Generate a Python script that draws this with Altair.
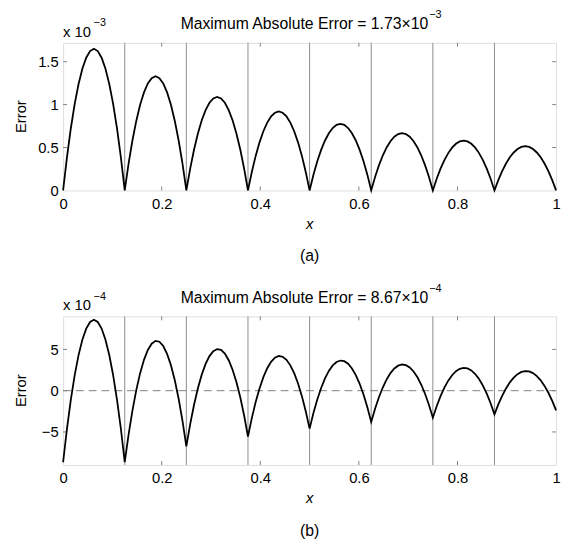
import altair as alt
import pandas as pd

# ---- data ----
knots = [0.0, 0.125, 0.25, 0.375, 0.5, 0.625, 0.75, 0.875, 1.0]
# panel (a): peak of each arc (units of 1e-3), zero at knots
top_peaks = [1.65, 1.33, 1.09, 0.92, 0.776, 0.668, 0.58, 0.515]
# panel (b): value at knots and value at arc middles (units of 1e-4)
bot_knot_vals = [-8.67, -8.65, -6.75, -5.55, -4.6, -3.8, -3.27, -2.87, -2.38]
bot_peaks = [8.6, 6.03, 5.04, 4.2, 3.65, 3.17, 2.77, 2.38]
arc_t = [0, 0.0625, 0.125, 0.1875, 0.25, 0.3125, 0.375, 0.4375, 0.5,
         0.5625, 0.625, 0.6875, 0.75, 0.8125, 0.875, 0.9375, 1.0]
arc_shape = [0, 0.234, 0.4375, 0.609, 0.75, 0.859, 0.9375, 0.984, 1.0,
             0.984, 0.9375, 0.859, 0.75, 0.609, 0.4375, 0.234, 0]

x_ticks = [0, 0.2, 0.4, 0.6, 0.8, 1]
top_yticks = [0, 0.5, 1, 1.5]
bot_yticks = [-5, 0, 5]

W, H1, H2 = 501, 150, 151
FONT = "Liberation Sans"

top_rows, bot_rows = [], []
for k in range(8):
    a, b = knots[k], knots[k + 1]
    va, vb = bot_knot_vals[k], bot_knot_vals[k + 1]
    mid = (va + vb) / 2
    for j, (t, s) in enumerate(zip(arc_t, arc_shape)):
        if k > 0 and j == 0:
            continue
        x = a + t * (b - a)
        top_rows.append({"x": x, "y": s * top_peaks[k]})
        bot_rows.append({"x": x, "y": (1 - t) * va + t * vb + s * (bot_peaks[k] - mid)})

top_df = pd.DataFrame(top_rows)
bot_df = pd.DataFrame(bot_rows)
one = pd.DataFrame({"d": [0]})


def panel(df, ydomain, yticks, H, title_main, title_exp, exp_label, caption, zero_line):
    xs = alt.Scale(domain=[0, 1], nice=False, zero=False)
    ys = alt.Scale(domain=ydomain, nice=False, zero=False)
    xax = alt.Axis(values=x_ticks, format="~g", domain=False, ticks=False, grid=False,
                   labelPadding=6, labelFontSize=15, labelFont=FONT, labelColor="black",
                   labelFlush=False, labelOverlap=False, title=None)
    yax = alt.Axis(values=yticks, format="~g", domain=False, ticks=False, grid=False,
                   labelPadding=5, labelFontSize=15, labelFont=FONT, labelColor="black",
                   labelFlush=False, labelOverlap=False, title=None)
    X = lambda: alt.X("x:Q", scale=xs, axis=xax)
    Y = lambda: alt.Y("y:Q", scale=ys, axis=yax)

    layers = []
    grid = alt.Chart(pd.DataFrame({"x": knots[1:-1]})).mark_rule(
        color="#8c8c8c", strokeWidth=1).encode(x=X(), y=alt.value(0), y2=alt.value(H))
    layers.append(grid)
    if zero_line:
        layers.append(alt.Chart(pd.DataFrame({"y": [0]})).mark_rule(
            color="#808080", strokeWidth=1, strokeDash=[8, 5]).encode(
            y=Y(), x=alt.value(0), x2=alt.value(W)))
    inner_x = [v for v in x_ticks if 0 < v < 1]
    inner_y = [v for v in yticks if ydomain[0] < v < ydomain[1]]
    tk = dict(color="#808080", strokeWidth=1)
    layers.append(alt.Chart(pd.DataFrame({"x": inner_x})).mark_rule(**tk).encode(
        x=X(), y=alt.value(H), y2=alt.value(H - 4)))
    layers.append(alt.Chart(pd.DataFrame({"x": inner_x})).mark_rule(**tk).encode(
        x=X(), y=alt.value(0), y2=alt.value(4)))
    layers.append(alt.Chart(pd.DataFrame({"y": inner_y})).mark_rule(**tk).encode(
        y=Y(), x=alt.value(0), x2=alt.value(4)))
    layers.append(alt.Chart(pd.DataFrame({"y": inner_y})).mark_rule(**tk).encode(
        y=Y(), x=alt.value(W), x2=alt.value(W - 4)))

    layers.append(alt.Chart(df).mark_line(color="black", strokeWidth=1.8).encode(x=X(), y=Y()))

    def txt(text, x, y, size=14, align="center", baseline="alphabetic", style="normal", angle=0):
        return alt.Chart(one).mark_text(text=text, font=FONT, fontSize=size, align=align,
                                        baseline=baseline, fontStyle=style, angle=angle,
                                        color="black").encode(x=alt.value(x), y=alt.value(y))

    layers.append(txt(title_main, 371, -14, size=16, align="right"))
    layers.append(txt(title_exp, 372, -25, size=11, align="left"))
    layers.append(txt("x 10", 0, -6, size=15, align="left"))
    layers.append(txt(exp_label, 31, -17, size=11, align="left"))
    layers.append(txt("Error", -43, H / 2, size=15, baseline="middle", angle=270))
    layers.append(txt("x", W / 2, H + 34, size=15, baseline="middle", style="italic"))
    layers.append(txt(caption, W / 2, H + 67, size=16, baseline="middle"))

    return alt.layer(*layers).properties(width=W, height=H)


top = panel(top_df, [0, 1.72], top_yticks, H1, "Maximum Absolute Error = 1.73\u00d710",
            "\u22123", "\u22123", "(a)", False)
bot = panel(bot_df, [-9, 9], bot_yticks, H2, "Maximum Absolute Error = 8.67\u00d710",
            "\u22124", "\u22124", "(b)", True)

chart = alt.vconcat(top, bot, spacing=128, bounds="flush").properties(
    padding={"left": 5, "top": -4, "right": 0, "bottom": 5}
).configure_view(stroke="#808080", strokeWidth=1).configure(font=FONT)

chart.save("out.html", embed_options={"renderer": "svg", "actions": False})
